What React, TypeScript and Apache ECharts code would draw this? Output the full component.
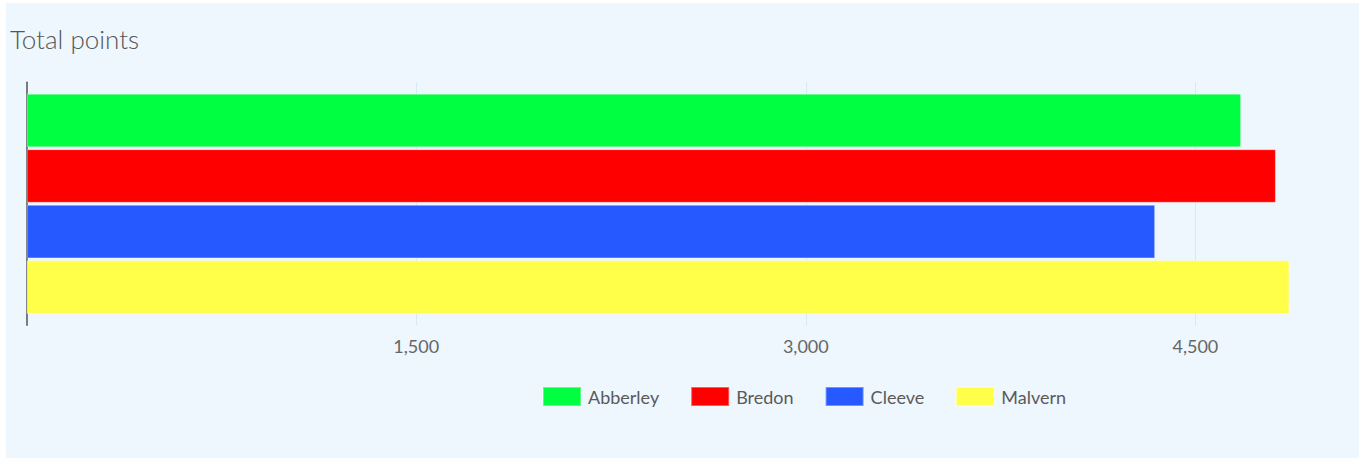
import React, { useEffect, useRef } from "react";
import * as echarts from "echarts";

const categories = ["Total points"];
const seriesNames = ["Abberley", "Bredon", "Cleeve", "Malvern"];
const seriesValues = [4676, 4810, 4345, 4862];
const seriesColors = ["#00FF41", "#FF0000", "#2659FF", "#FFFF4A"];
const titleText = "Total points";

export default function App() {
  const ref = useRef<HTMLDivElement>(null);
  useEffect(() => {
    document.body.style.margin = "0";
    if (!ref.current) return;
    const chart = echarts.init(ref.current, undefined, { renderer: "svg" });
    const unit = 0.26;
    const xMax = 5130;
    chart.setOption({
      animation: false,
      backgroundColor: "#EEF6FE",
      textStyle: { fontFamily: "Lato" },
      title: {
        text: titleText,
        left: -1,
        top: 18,
        textStyle: { fontFamily: "Lato", fontSize: 26, fontWeight: 300, color: "#555" },
      },
      legend: {
        left: 531,
        top: 378,
        itemWidth: 38,
        itemHeight: 19,
        itemGap: 31,
        icon: "rect",
        textStyle: { fontFamily: "Lato", fontSize: 18, color: "#5a5a5a", padding: [0, 0, 0, 2] },
        data: seriesNames,
      },
      grid: { left: 20.7, top: 79.3, width: xMax * unit, height: 243, containLabel: false },
      xAxis: {
        type: "value",
        min: 0,
        max: xMax,
        interval: 1500,
        axisLine: { show: false },
        axisTick: { show: false },
        splitLine: { show: true, lineStyle: { color: "#D9E8F7", width: 1 } },
        axisLabel: {
          showMinLabel: false,
          showMaxLabel: false,
          margin: 12,
          fontFamily: "Lato",
          fontSize: 18,
          color: "#666",
          formatter: (v: number) => (v === 0 ? "" : v.toLocaleString("en-US")),
        },
      },
      yAxis: {
        type: "category",
        data: categories,
        inverse: true,
        axisLine: { show: true, lineStyle: { color: "#555", width: 1.5 } },
        axisTick: { show: false },
        axisLabel: { show: false },
        splitLine: { show: false },
      },
      series: seriesNames.map((name, i) => ({
        name,
        type: "bar",
        data: [seriesValues[i]],
        barWidth: 53.6,
        barGap: "3.7%",
        itemStyle: { color: seriesColors[i], borderColor: "rgba(255,255,255,0.35)", borderWidth: 1 },
      })),
    });
    return () => chart.dispose();
  }, []);
  return (
    <div style={{ position: "relative", width: 1364, height: 459, background: "#fff" }}>
      <div
        ref={ref}
        style={{ position: "absolute", left: 6, top: 3, width: 1353, height: 455 }}
      />
    </div>
  );
}
